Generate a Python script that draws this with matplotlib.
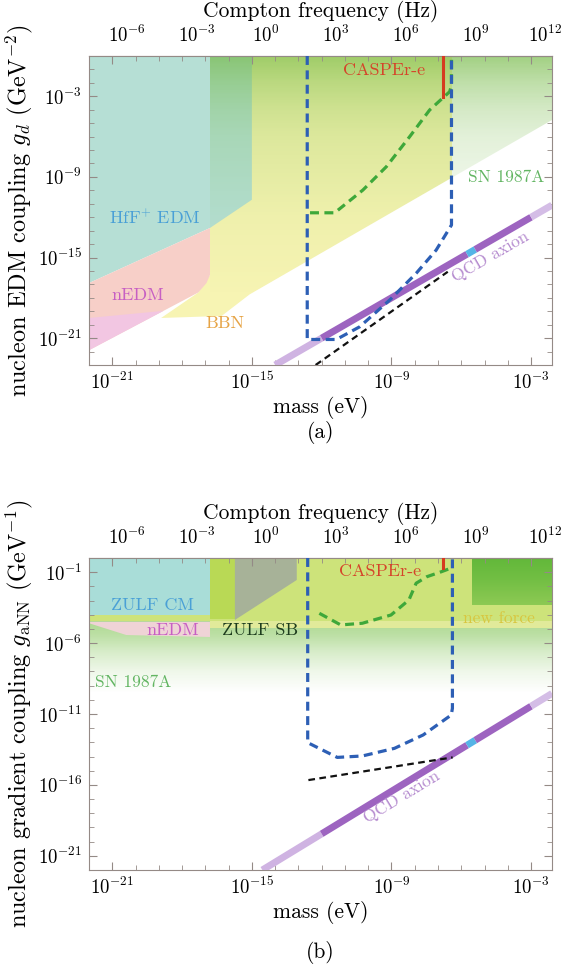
import numpy as np
import matplotlib as mpl
import matplotlib.pyplot as plt
from matplotlib.colors import LinearSegmentedColormap, to_rgb
from matplotlib.patches import Polygon
from matplotlib.ticker import (FixedLocator, NullFormatter, NullLocator,
                               LogFormatterSciNotation)

mpl.rcParams['font.family'] = 'serif'
mpl.rcParams['font.serif'] = ['cmr10']
mpl.rcParams['mathtext.fontset'] = 'cm'
mpl.rcParams['axes.unicode_minus'] = False
mpl.rcParams['axes.formatter.use_mathtext'] = True

HZ_PER_EV = 2.418e14
FRAME = '#948a86'

# all values are log10: mass in eV, couplings in GeV^-2 (a) / GeV^-1 (b)
mass_lim = [-22, -2.1]
mass_major = [-21, -15, -9, -3]
freq_major = [-6, -3, 0, 3, 6, 9, 12]
qcd_breaks = [-12.0, -5.75, -5.4, -3.0]

# ---- panel (a): nucleon EDM coupling
a_g_lim = [-23, 0]
a_g_major = [-21, -15, -9, -3]
a_hff_m = [-22, -22, -16.8, -15.0, -15.0]
a_hff_g = [0, -16.9, -12.8, -10.7, 0]
a_nedm_m = [-22, -16.8, -16.8, -16.95, -17.3, -22]
a_nedm_g = [-16.9, -12.8, -16.3, -16.9, -17.6, -21.9]
a_nedm2_m = [-22, -18.8, -22]
a_nedm2_g = [-19.5, -18.97, -21.9]
a_bbn_m = [-16.8, -6.4, -6.4, -15.1, -16.3, -18.9, -17.3, -16.8]
a_bbn_g = [0, 0, -9.05, -17.75, -19.35, -19.5, -17.6, -16.3]
a_sn_m = [-16.8, -2.1, -2.1, -15.1, -16.8]
a_sn_g = [0, 0, -4.75, -17.75, -17.75]
a_blue_m = [-12.62, -12.62, -11.37, -10.37, -9.08, -7.94, -7.08, -6.42, -6.42]
a_blue_g = [0, -21.1, -21.1, -20.16, -18.17, -16.18, -14.45, -12.58, 0]
a_green_m = [-12.5, -11.44, -10.23, -9.22, -8.22, -7.36, -6.5, -6.42, -6.42]
a_green_g = [-11.67, -11.67, -9.98, -8.24, -6.01, -4.02, -2.66, -2.2, 0]
a_red_m = [-6.79, -6.79]
a_red_g = [0, -3.03]
a_black_m = [-12.26, -6.58]
a_black_g = [-23, -16.06]
a_qcd_offset = -9.0

# ---- panel (b): nucleon gradient coupling
b_g_lim = [-22, 0]
b_g_major = [-21, -16, -11, -6, -1]
b_yg_m = [-22, -2.1, -2.1, -22]
b_yg_g = [0, 0, -4.45, -4.45]
b_bright_m = [-16.8, -15.73, -15.73, -16.8]
b_bright_g = [0, 0, -4.3, -4.3]
b_band_m = [-16.8, -2.1, -2.1, -16.8]
b_band_g = [-4.45, -4.45, -4.95, -4.95]
b_force_m = [-5.52, -2.1, -2.1, -5.52, -6.08, -5.52]
b_force_g = [0, 0, -3.31, -3.31, -3.79, -3.31]
b_zulfcm_m = [-22, -16.8, -16.8, -22]
b_zulfcm_g = [0, 0, -4.05, -4.05]
b_nedm_m = [-22, -16.8, -16.8, -20.4, -22]
b_nedm_g = [-4.5, -4.5, -5.57, -5.43, -4.6]
b_zulfsb_m = [-15.73, -13.07, -13.07, -15.73]
b_zulfsb_g = [0, 0, -1.55, -4.37]
b_sn_m = [-22, -2.1, -2.1, -22]
b_sn_g = [-4.45, -4.45, -10.5, -10.5]
b_blue_m = [-12.6, -12.6, -11.33, -10.25, -8.87, -7.64, -6.43, -6.38, -6.38]
b_blue_g = [0, -13.02, -14.06, -13.96, -13.42, -12.48, -11.07, -10.6, 0]
b_green_m = [-12.1, -11.18, -10.25, -9.02, -8.25, -7.94, -7.48, -6.86, -6.5]
b_green_g = [-3.9, -4.72, -4.6, -4.02, -2.96, -1.78, -1.32, -0.97, -0.75]
b_red_m = [-6.79, -6.79]
b_red_g = [0, -0.73]
b_black_m = [-12.57, -6.37]
b_black_g = [-15.66, -14.06]
b_qcd_offset = -7.45


def pw(v):
    return np.power(10.0, np.asarray(v, dtype=float))


def fill_region(ax, m, g, color, z, alpha=1.0):
    ax.fill(pw(m), pw(g), color=color, alpha=alpha, lw=0, zorder=z)


def gradient_region(ax, m, g, color, stop_g, stop_a, z):
    clip = Polygon(np.column_stack([pw(m), pw(g)]), closed=True,
                   facecolor='none', edgecolor='none')
    ax.add_patch(clip)
    edges = np.linspace(min(g), max(g), 200)
    mid = 0.5 * (edges[1:] + edges[:-1])
    alpha = np.interp(mid, stop_g, stop_a)
    rgb = to_rgb(color)
    cmap = LinearSegmentedColormap.from_list('fade', [rgb + (0.0,), rgb + (1.0,)])
    mesh = ax.pcolormesh(pw([min(m), max(m)]), pw(edges), alpha[:, None],
                         cmap=cmap, vmin=0, vmax=1, shading='flat',
                         edgecolors='none', antialiased=False, zorder=z)
    mesh.set_clip_path(clip)


def dashed(ax, m, g, color, lw=2.3, dashes=(2.8, 1.7)):
    ax.plot(pw(m), pw(g), color=color, lw=lw, dashes=dashes, zorder=4)


def draw_qcd(ax, offset, g_low):
    edges = [g_low - offset] + qcd_breaks + [mass_lim[1]]
    colors = ['#cfb3e2', '#9d64c0', '#55b4e6', '#9d64c0', '#d4bde6']
    for m0, m1, col in zip(edges[:-1], edges[1:], colors):
        ax.plot(pw([m0, m1]), pw([m0 + offset, m1 + offset]), color=col,
                lw=5, solid_capstyle='butt', zorder=3)


def qcd_label(ax, offset, m, g):
    p0 = ax.transData.transform((pw(-10), pw(-10 + offset)))
    p1 = ax.transData.transform((pw(-5), pw(-5 + offset)))
    ang = np.degrees(np.arctan2(p1[1] - p0[1], p1[0] - p0[0]))
    ax.text(pw(m), pw(g), 'QCD axion', rotation=ang, rotation_mode='anchor',
            ha='center', va='center', fontsize=12.5, color='#b58bcf', zorder=5)


def label(ax, m, g, s, color, size=13):
    ax.text(pw(m), pw(g), s, ha='center', va='center', fontsize=size,
            color=color, zorder=5)


def setup_axes(ax, g_lim, g_major, ylabel):
    ax.set_xscale('log')
    ax.set_yscale('log')
    ax.set_xlim(pw(mass_lim))
    ax.set_ylim(pw(g_lim))
    ax.xaxis.set_major_locator(FixedLocator(pw(mass_major)))
    ax.xaxis.set_minor_locator(FixedLocator(pw(np.arange(-22, -2))))
    ax.yaxis.set_major_locator(FixedLocator(pw(g_major)))
    ax.yaxis.set_minor_locator(FixedLocator(pw(np.arange(g_lim[0], g_lim[1] + 1))))
    ax.xaxis.set_major_formatter(LogFormatterSciNotation())
    ax.yaxis.set_major_formatter(LogFormatterSciNotation())
    ax.xaxis.set_minor_formatter(NullFormatter())
    ax.yaxis.set_minor_formatter(NullFormatter())
    ax.tick_params(which='both', direction='in', top=True, right=True,
                   color=FRAME, labelsize=13.5)
    ax.tick_params(which='major', length=6, width=0.8, pad=5)
    ax.tick_params(which='minor', length=3.5, width=0.6)
    for s in ax.spines.values():
        s.set_color(FRAME)
    ax.set_xlabel('mass (eV)', fontsize=15.5, labelpad=2)
    ax.set_ylabel(ylabel, fontsize=17.5, labelpad=2)

    sec = ax.secondary_xaxis('top', functions=(lambda m: m * HZ_PER_EV,
                                                lambda f: f / HZ_PER_EV))
    sec.set_xticks(pw(freq_major))
    sec.xaxis.set_minor_locator(NullLocator())
    sec.xaxis.set_major_formatter(LogFormatterSciNotation())
    sec.tick_params(length=0, labelsize=13.5, pad=7)
    sec.spines['top'].set_color(FRAME)
    sec.set_xlabel('Compton frequency (Hz)', fontsize=15.5, labelpad=6)


fig = plt.figure(figsize=(5.63, 9.76), dpi=100)
W, H = 563.0, 976.0
ax_a = fig.add_axes([89 / W, 1 - 365 / H, 463 / W, 309 / H])
ax_b = fig.add_axes([89 / W, 1 - 870 / H, 463 / W, 312 / H])

# ---------------- panel (a)
setup_axes(ax_a, a_g_lim, a_g_major,
           r'nucleon EDM coupling $g_d$ (GeV$^{-2}$)')
fill_region(ax_a, a_bbn_m, a_bbn_g, '#f7f4b3', 1.0)
fill_region(ax_a, a_hff_m, a_hff_g, '#b6dfd5', 1.1)
fill_region(ax_a, a_nedm_m, a_nedm_g, '#f7cfc8', 1.2)
fill_region(ax_a, a_nedm2_m, a_nedm2_g, '#f2c6e2', 1.3)
gradient_region(ax_a, a_sn_m, a_sn_g, '#72b842',
                [-18, -12, -9, -6, -4, -2, 0],
                [0.0, 0.06, 0.13, 0.2, 0.3, 0.45, 0.66], 1.5)
draw_qcd(ax_a, a_qcd_offset, a_g_lim[0])
dashed(ax_a, a_black_m, a_black_g, '#111111', lw=1.6, dashes=(3, 2))
dashed(ax_a, a_green_m, a_green_g, '#3ea83a')
dashed(ax_a, a_blue_m, a_blue_g, '#2d5fb5')
ax_a.plot(pw(a_red_m), pw(a_red_g), color='#d63b1f', lw=2.2, zorder=4)

label(ax_a, -19.17, -11.99, r'$\mathrm{HfF^{+}\ EDM}$', '#4aa0d6')
label(ax_a, -19.9, -17.8, 'nEDM', '#c75fc3')
label(ax_a, -16.16, -19.88, 'BBN', '#e6a446')
label(ax_a, -4.06, -9.01, 'SN 1987A', '#62b562', 12.5)
label(ax_a, -9.3, -1.04, 'CASPEr-e', '#d5442a')
qcd_label(ax_a, a_qcd_offset, -4.75, -14.97)

# ---------------- panel (b)
setup_axes(ax_b, b_g_lim, b_g_major,
           r'nucleon gradient coupling $g_{\mathrm{aNN}}$ (GeV$^{-1}$)')
gradient_region(ax_b, b_sn_m, b_sn_g, '#7cc24e',
                [-10.5, -9.5, -8, -6.5, -5.5, -4.45],
                [0.0, 0.0, 0.12, 0.32, 0.5, 0.62], 1.0)
fill_region(ax_b, b_yg_m, b_yg_g, '#cde37a', 1.05)
fill_region(ax_b, b_bright_m, b_bright_g, '#b9d955', 1.06)
fill_region(ax_b, b_band_m, b_band_g, '#e1ea9a', 1.07)
gradient_region(ax_b, b_force_m, b_force_g, '#62b83a',
                [-3.8, -3.3, -1.5, 0], [0.55, 0.6, 0.85, 1.0], 1.1)
fill_region(ax_b, b_zulfcm_m, b_zulfcm_g, '#a9ddd8', 1.2)
fill_region(ax_b, b_nedm_m, b_nedm_g, '#efd3d6', 1.3)
fill_region(ax_b, b_zulfsb_m, b_zulfsb_g, '#a7b298', 1.4)
draw_qcd(ax_b, b_qcd_offset, b_g_lim[0])
dashed(ax_b, b_black_m, b_black_g, '#111111', lw=1.6, dashes=(3, 2))
dashed(ax_b, b_green_m, b_green_g, '#3ea83a')
dashed(ax_b, b_blue_m, b_blue_g, '#2d5fb5')
ax_b.plot(pw(b_red_m), pw(b_red_g), color='#d63b1f', lw=2.2, zorder=4)

label(ax_b, -19.25, -3.31, 'ZULF CM', '#4aa0d6')
label(ax_b, -18.39, -5.08, 'nEDM', '#c75fc3')
label(ax_b, -14.66, -5.08, 'ZULF SB', '#1e3d1e')
label(ax_b, -20.1, -8.74, 'SN 1987A', '#62b562', 12.5)
label(ax_b, -9.51, -0.97, 'CASPEr-e', '#d5442a')
label(ax_b, -4.36, -4.23, 'new force', '#d8c640', 12.5)
qcd_label(ax_b, b_qcd_offset, -8.57, -16.85)

fig.text(320.5 / W, 1 - 432 / H, '(a)', ha='center', va='center', fontsize=15.5)
fig.text(320.5 / W, 1 - 953 / H, '(b)', ha='center', va='center', fontsize=15.5)

fig.savefig('out.png', dpi=100)
plt.close(fig)
